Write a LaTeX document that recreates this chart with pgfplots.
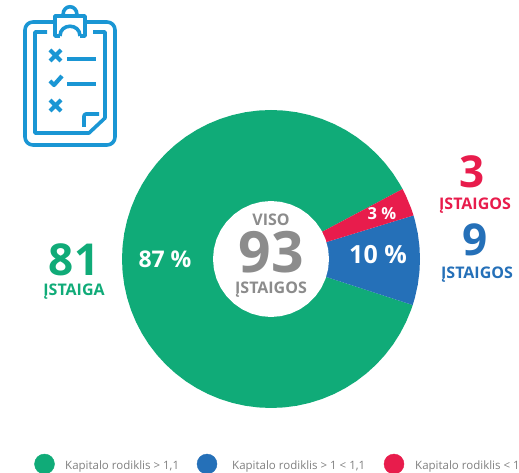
\documentclass[border=0pt]{standalone}
\usepackage{fontspec}
\setmainfont{Open Sans}
\usepackage{pgfplots}
\pgfplotsset{compat=1.18}
\usepgfplotslibrary{polar}
\definecolor{cgreen}{HTML}{10AB78}
\definecolor{cblue}{HTML}{2570B8}
\definecolor{cred}{HTML}{E81C4C}
\definecolor{cicon}{HTML}{1A96D4}
\definecolor{cgray}{HTML}{8C8C8C}
\definecolor{clegend}{HTML}{808080}
\begin{document}
\begin{tikzpicture}
\path[use as bounding box] (0,0) rectangle (519pt,473pt);
% pie, origin on the centre of the ring, one unit = one pixel
\begin{axis}[
  at={(0,0)},anchor=south west,
  width=519pt,height=473pt,scale only axis,
  xmin=-271,xmax=248,ymin=-214,ymax=259,
  hide axis,clip=false
]
% green 87 %
\addplot[data cs=polar,draw=none,fill=cgreen] coordinates {
  (0,0) (28,149) (30,149) (35,149) (40,149) (45,149) (50,149) (55,149) (60,149) (65,149)
  (70,149) (75,149) (80,149) (85,149) (90,149) (95,149) (100,149) (105,149) (110,149)
  (115,149) (120,149) (125,149) (130,149) (135,149) (140,149) (145,149) (150,149)
  (155,149) (160,149) (165,149) (170,149) (175,149) (180,149) (185,149) (190,149)
  (195,149) (200,149) (205,149) (210,149) (215,149) (220,149) (225,149) (230,149)
  (235,149) (240,149) (245,149) (250,149) (255,149) (260,149) (265,149) (270,149)
  (275,149) (280,149) (285,149) (290,149) (295,149) (300,149) (305,149) (310,149)
  (315,149) (320,149) (325,149) (330,149) (335,149) (340,149) (342,149)
} -- cycle;
% blue 10 %
\addplot[data cs=polar,draw=none,fill=cblue] coordinates {
  (0,0) (-18,149) (-15,149) (-10,149) (-5,149) (0,149) (5,149) (10,149) (15,149) (17,149)
} -- cycle;
% red 3 %
\addplot[data cs=polar,draw=none,fill=cred] coordinates {
  (0,0) (17,149) (20,149) (25,149) (28,149)
} -- cycle;
% hole
\addplot[data cs=polar,draw=none,fill=white] coordinates {
  (0,58) (10,58) (20,58) (30,58) (40,58) (50,58) (60,58) (70,58) (80,58) (90,58)
  (100,58) (110,58) (120,58) (130,58) (140,58) (150,58) (160,58) (170,58) (180,58)
  (190,58) (200,58) (210,58) (220,58) (230,58) (240,58) (250,58) (260,58) (270,58)
  (280,58) (290,58) (300,58) (310,58) (320,58) (330,58) (340,58) (350,58)
} -- cycle;
\end{axis}
% everything else in image pixels
\begin{axis}[
  at={(0,0)},anchor=south west,
  width=519pt,height=473pt,scale only axis,
  xmin=0,xmax=519,ymin=0,ymax=473,y dir=reverse,
  hide axis,clip=true
]
% legend dots
\addplot[only marks,mark=*,mark size=10pt,cgreen] coordinates {(44.5,464)};
\addplot[only marks,mark=*,mark size=10pt,cblue] coordinates {(207,464)};
\addplot[only marks,mark=*,mark size=10pt,cred] coordinates {(394,464)};
\tikzset{every node/.append style={inner sep=0pt}}
\node[anchor=west,text=clegend,font=\fontsize{11.5}{13}\selectfont] at (axis cs:65,466.5) {Kapitalo rodiklis > 1,1};
\node[anchor=west,text=clegend,font=\fontsize{11.5}{13}\selectfont] at (axis cs:232,466.5) {Kapitalo rodiklis > 1 < 1,1};
\node[anchor=west,text=clegend,font=\fontsize{11.5}{13}\selectfont] at (axis cs:415,466.5) {Kapitalo rodiklis < 1,1};
% slice labels
\node[text=white,font=\fontsize{23}{26}\bfseries\selectfont] at (axis cs:165,259) {87 \%};
\node[text=white,font=\fontsize{25}{28}\bfseries\selectfont] at (axis cs:378,255) {10 \%};
\node[text=white,font=\fontsize{16.5}{18}\bfseries\selectfont] at (axis cs:382,214) {3 \%};
% centre
\node[text=cgray,font=\fontsize{16}{18}\bfseries\selectfont] at (axis cs:271,220) {VISO};
\node[text=cgray,font=\fontsize{57}{60}\bfseries\selectfont] at (axis cs:271,252) {93};
\node[text=cgray,font=\fontsize{16}{18}\bfseries\selectfont] at (axis cs:271,290) {ĮSTAIGOS};
% counts
\node[text=cgreen,font=\fontsize{44}{46}\bfseries\selectfont] at (axis cs:74,260) {81};
\node[text=cgreen,font=\fontsize{16}{18}\bfseries\selectfont] at (axis cs:74,292) {ĮSTAIGA};
\node[text=cred,font=\fontsize{44}{46}\bfseries\selectfont] at (axis cs:472,172) {3};
\node[text=cred,font=\fontsize{16}{18}\bfseries\selectfont] at (axis cs:475,206) {ĮSTAIGOS};
\node[text=cblue,font=\fontsize{44}{46}\bfseries\selectfont] at (axis cs:475,240) {9};
\node[text=cblue,font=\fontsize{16}{18}\bfseries\selectfont] at (axis cs:477,275) {ĮSTAIGOS};
% clipboard icon
\begin{scope}[draw=cicon,line width=3.6pt,line join=round]
\draw[rounded corners=8pt] (53,22) -- (25,22) -- (25,145) -- (115,145) -- (115,22) -- (86,22);
\draw (47,32) -- (35,32) -- (35,133) -- (89,133) -- (105,118) -- (105,32) -- (93,32);
\draw[rounded corners=2pt] (84,127) -- (84,114) -- (99,114);
\draw (60,36) -- (55,36) -- (55,16) -- (85,16) -- (85,36) -- (80,36);
\draw (60,36) .. controls (60,23) and (80,23) .. (80,36);
\draw (63,15) .. controls (63,4) and (77,4) .. (77,15);
\draw[line width=4.2pt] (50,50) -- (61,61) (61,50) -- (50,61);
\draw[line width=4.2pt] (50,100) -- (61,111) (61,100) -- (50,111);
\draw[line width=4.2pt] (50,81) -- (54,85) -- (62,76);
\draw (67,59) -- (96,59) (67,84) -- (96,84);
\end{scope}
\end{axis}
\end{tikzpicture}
\end{document}
